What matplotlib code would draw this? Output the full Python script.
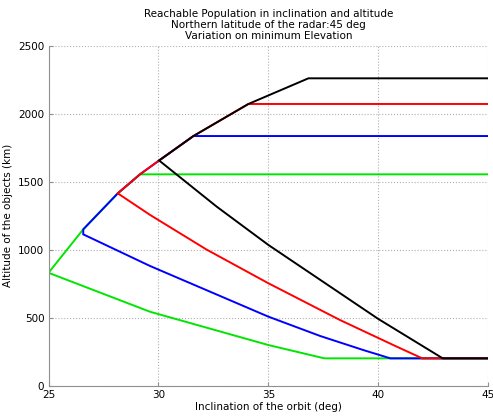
import matplotlib.pyplot as plt

# rising envelope shared by all elevations (inclination deg, altitude km)
env_inc = [25.0, 26.58, 28.15, 29.16, 30.03, 31.59, 34.09, 36.82]
env_alt = [830, 1150, 1415, 1555, 1657, 1837, 2073, 2262]

# per minimum elevation: index on the envelope of the lower corner / top corner
colors = ['#00e600', '#0000ff', '#ff0000', '#000000']
start_idx = [0, 1, 2, 4]
top_idx = [3, 5, 6, 7]

# descending lower branches
low_inc = [
    [25.0, 29.62, 35.0, 37.55],
    [26.58, 26.58, 29.62, 35.0, 37.35, 39.32, 40.55],
    [28.15, 29.62, 32.2, 35.0, 38.26, 40.84, 42.0],
    [30.03, 32.65, 35.0, 40.0, 42.93],
]
low_alt = [
    [830, 543, 298, 200],
    [1150, 1113, 880, 507, 365, 261, 200],
    [1415, 1256, 1000, 753, 482, 286, 200],
    [1657, 1317, 1035, 490, 200],
]
inc_max = 45

fig = plt.figure(figsize=(4.93, 4.17), dpi=100)
ax = fig.add_axes([0.0984, 0.0755, 0.892, 0.8142])
plt.rcParams['font.family'] = ['Liberation Sans', 'DejaVu Sans']

for c, s, t, li, la in zip(colors, start_idx, top_idx, low_inc, low_alt):
    xs = [inc_max] + env_inc[s:t + 1][::-1] + li[1:] + [inc_max]
    ys = [env_alt[t]] + env_alt[s:t + 1][::-1] + la[1:] + [la[-1]]
    ax.plot(xs, ys, color=c, linewidth=1.4, solid_joinstyle='miter')

ax.set_xlim(25, 45)
ax.set_ylim(0, 2500)
ax.set_xticks([25, 30, 35, 40, 45])
ax.set_yticks([0, 500, 1000, 1500, 2000, 2500])
ax.grid(True, linestyle=':', color='#b0b0b0', linewidth=0.8)
for sp in ['top', 'right']:
    ax.spines[sp].set_visible(False)
for sp in ['left', 'bottom']:
    ax.spines[sp].set_color('#909090')
ax.tick_params(direction='in', length=3, color='#909090', labelsize=7.5, pad=3)

ax.set_title("Reachable Population in inclination and altitude\n"
             "Northern latitude of the radar:45 deg\n"
             "Variation on minimum Elevation", fontsize=7.5, pad=5, linespacing=1.15)
ax.set_xlabel("Inclination of the orbit (deg)", fontsize=7.5, labelpad=2)
ax.set_ylabel("Altitude of the objects (km)", fontsize=7.5, labelpad=4)

fig.savefig("out.png", dpi=100)
